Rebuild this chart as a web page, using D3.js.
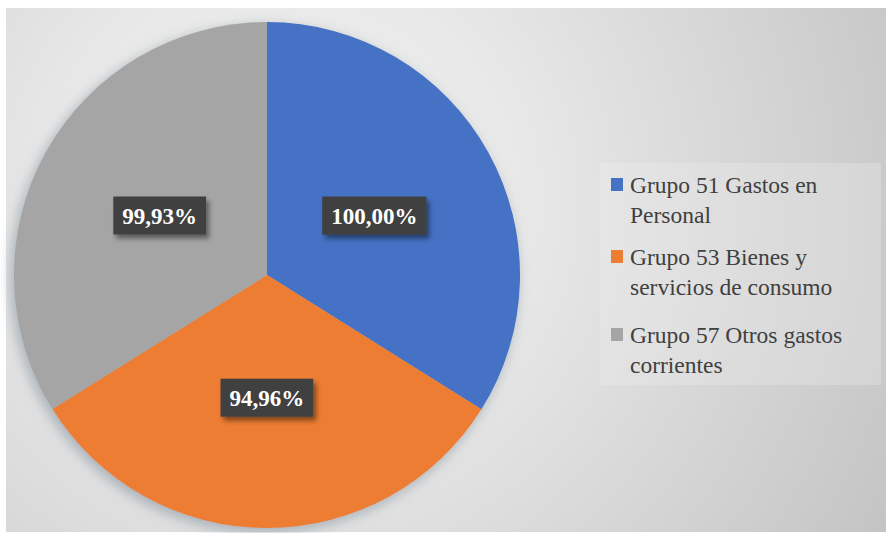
<!DOCTYPE html>
<html>
<head>
<meta charset="utf-8">
<script src="https://cdn.jsdelivr.net/npm/d3@7"></script>
<style>
  body { margin: 0; background: #fff; }
  svg { display: block; }
  .serif { font-family: 'Liberation Serif', 'Times New Roman', Tinos, 'DejaVu Serif', serif; }
</style>
</head>
<body>
<svg id="chart" width="886" height="533"></svg>
<script>
'use strict';

// data
var categories = ['Grupo 51 Gastos en Personal', 'Grupo 53 Bienes y servicios de consumo', 'Grupo 57 Otros gastos corrientes'];
var legendLines = [['Grupo 51 Gastos en', 'Personal'], ['Grupo 53 Bienes y', 'servicios de consumo'], ['Grupo 57 Otros gastos', 'corrientes']];
var values = [100.00, 94.96, 99.93];
var labels = ['100,00%', '94,96%', '99,93%'];
var colors = ['#4472C4', '#ED7D31', '#A5A5A5'];

var svg = d3.select('#chart');
var width = 886, height = 533;
var defs = svg.append('defs');

// background gradient
var bg = defs.append('radialGradient').attr('id', 'bgGrad')
  .attr('gradientUnits', 'userSpaceOnUse')
  .attr('cx', 290).attr('cy', 200).attr('r', 680);
bg.append('stop').attr('offset', '0%').attr('stop-color', '#f4f4f4');
bg.append('stop').attr('offset', '35%').attr('stop-color', '#e8e8e8');
bg.append('stop').attr('offset', '100%').attr('stop-color', '#c4c4c4');

var pieShadow = defs.append('filter').attr('id', 'pieShadow')
  .attr('x', '-20%').attr('y', '-20%').attr('width', '140%').attr('height', '140%');
pieShadow.append('feDropShadow').attr('dx', -3).attr('dy', 4).attr('stdDeviation', 7)
  .attr('flood-color', '#7a8a95').attr('flood-opacity', 0.6);

var boxShadow = defs.append('filter').attr('id', 'boxShadow')
  .attr('x', '-20%').attr('y', '-30%').attr('width', '150%').attr('height', '170%');
boxShadow.append('feDropShadow').attr('dx', 3).attr('dy', 4).attr('stdDeviation', 2.5)
  .attr('flood-color', '#000').attr('flood-opacity', 0.45);

svg.append('rect')
  .attr('x', 6).attr('y', 8)
  .attr('width', width - 6).attr('height', height - 9)
  .attr('fill', 'url(#bgGrad)');

// pie
var cx = 267, cy = 275, radius = 253;
var pie = d3.pie().sort(null).value(function(d){ return d; });
var arcs = pie(values);
var arc = d3.arc().innerRadius(0).outerRadius(radius);
var labelArc = d3.arc().innerRadius(radius * 0.485).outerRadius(radius * 0.485);

var g = svg.append('g').attr('transform', 'translate(' + cx + ',' + cy + ')');

g.append('g').attr('filter', 'url(#pieShadow)')
  .selectAll('path')
  .data(arcs)
  .enter().append('path')
  .attr('d', arc)
  .attr('fill', function(d, i){ return colors[i]; });

// data labels
var lab = g.selectAll('g.lab')
  .data(arcs)
  .enter().append('g')
  .attr('class', 'lab')
  .attr('transform', function(d){ var c = labelArc.centroid(d); return 'translate(' + c[0] + ',' + c[1] + ')'; });

lab.each(function(d, i){
  var el = d3.select(this);
  var t = el.append('text')
    .attr('class', 'serif')
    .attr('text-anchor', 'middle')
    .attr('dy', '0.36em')
    .attr('font-weight', 'bold')
    .attr('font-size', 23)
    .attr('fill', '#fff')
    .text(labels[i]);
  var bb = t.node().getBBox();
  el.insert('rect', 'text')
    .attr('x', bb.x - 9).attr('y', -19)
    .attr('width', bb.width + 18).attr('height', 38)
    .attr('fill', '#404040')
    .attr('filter', 'url(#boxShadow)');
});

// legend
var legend = svg.append('g');
legend.append('rect')
  .attr('x', 600).attr('y', 163)
  .attr('width', 281).attr('height', 222)
  .attr('fill', '#f0f0f0').attr('fill-opacity', 0.3);

var itemY = [193, 265, 343];
var items = legend.selectAll('g.item')
  .data(categories)
  .enter().append('g')
  .attr('class', 'item')
  .attr('transform', function(d, i){ return 'translate(611,' + itemY[i] + ')'; });

items.append('rect')
  .attr('x', 0).attr('y', -15)
  .attr('width', 12).attr('height', 13)
  .attr('fill', function(d, i){ return colors[i]; });

items.append('text')
  .attr('class', 'serif')
  .attr('x', 19)
  .attr('font-size', 23.5)
  .attr('fill', '#404040')
  .selectAll('tspan')
  .data(function(d, i){ return legendLines[i]; })
  .enter().append('tspan')
  .attr('x', 19)
  .attr('dy', function(d, j){ return j === 0 ? 0 : 29.5; })
  .text(function(d){ return d; });
</script>
</body>
</html>
